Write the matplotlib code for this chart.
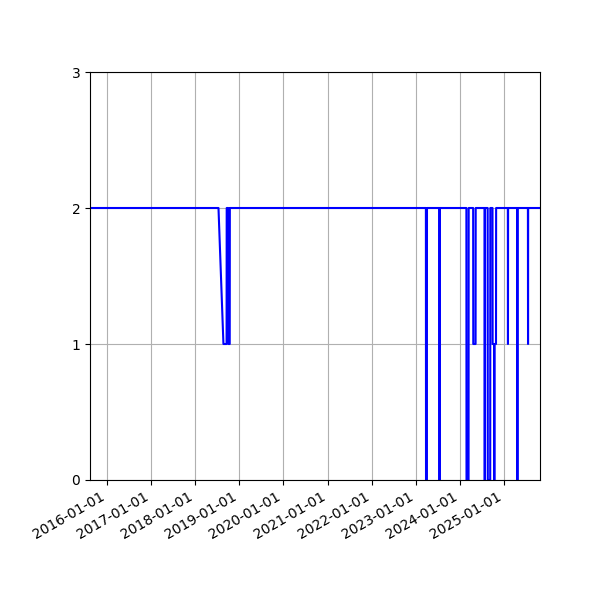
import matplotlib
matplotlib.use("Agg")
import matplotlib.pyplot as plt
import matplotlib.dates as mdates
import pandas as pd

dates = [
    "2015-08-16", "2018-07-14", "2018-08-24", "2018-09-19", "2018-09-20",
    "2018-10-03", "2018-10-04", "2018-10-15", "2018-10-16",
    "2023-03-26", "2023-03-27", "2023-04-03", "2023-04-04",
    "2023-07-16", "2023-07-17", "2023-07-18",
    "2024-02-24", "2024-02-25", "2024-03-13", "2024-03-14",
    "2024-04-20", "2024-04-21", "2024-05-10", "2024-05-11",
    "2024-07-24", "2024-07-25", "2024-07-26",
    "2024-08-18", "2024-08-19", "2024-09-08", "2024-09-09",
    "2024-09-27", "2024-09-28", "2024-10-11", "2024-10-12", "2024-10-13",
    "2024-10-26", "2024-10-27",
    "2025-02-01", "2025-02-02", "2025-02-03",
    "2025-04-20", "2025-04-21", "2025-04-22",
    "2025-07-17", "2025-07-18", "2025-07-19",
    "2025-10-25",
]
values = [
    2, 2, 1, 1, 2,
    2, 1, 1, 2,
    2, 0, 0, 2,
    2, 0, 2,
    2, 0, 0, 2,
    2, 1, 1, 2,
    2, 0, 2,
    2, 0, 0, 2,
    2, 1, 1, 0, 1,
    1, 2,
    2, 1, 2,
    2, 0, 2,
    2, 1, 2,
    2,
]
y_ticks = [0, 1, 2, 3]

x = pd.to_datetime(dates)

fig, ax = plt.subplots(figsize=(6, 6), dpi=100)
ax.plot(x, values, color="blue", linewidth=1.5)
ax.set_xlim(x.min(), x.max())
ax.set_ylim(0, 3)
ax.set_yticks(y_ticks)
ax.xaxis.set_major_locator(mdates.YearLocator())
ax.xaxis.set_major_formatter(mdates.DateFormatter("%Y-%m-%d"))
ax.grid(True)
fig.autofmt_xdate()
fig.subplots_adjust(left=0.15, right=0.9, top=0.88, bottom=0.2)
fig.savefig("out.png", dpi=100)
